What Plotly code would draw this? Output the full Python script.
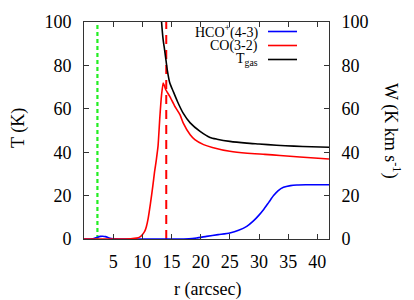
import plotly.graph_objects as go

# ---- data ----
r_tgas = [13.0, 13.3, 13.57, 13.8, 14.0, 14.3, 14.7, 15.3, 16.0, 17.0, 18.2, 19.9, 21.6, 22.8, 25.0, 27.9, 30.0, 33.0, 36.0, 39.0, 42.0]
t_gas = [115, 100, 91.8, 87.5, 83.5, 77.5, 72.0, 68.0, 63.5, 58.0, 53.5, 49.6, 46.8, 46.0, 45.0, 44.2, 43.8, 43.2, 42.8, 42.5, 42.3]

r_co = [0, 5, 7, 8, 9, 9.6, 10.0, 10.4, 10.7, 11.0, 11.4, 11.8, 12.1, 12.4, 12.7, 13.0, 13.3, 13.57, 13.8, 14.0, 14.7, 15.5, 16.45, 17.0, 18.2, 19.0, 20.5, 22.0, 25.0, 28.0, 31.0, 33.6, 37.0, 42.0]
w_co = [0, 0, 0, 0.1, 0.4, 1.0, 2.0, 3.5, 5.8, 9.5, 16.5, 24.5, 31.0, 36.5, 43.0, 56.0, 66.5, 71.9, 70.5, 68.9, 65.7, 61.5, 57.3, 53.5, 48.0, 45.8, 43.5, 42.2, 40.4, 39.5, 39.0, 38.5, 37.8, 36.9]

r_hco = [0, 1.5, 2.2, 2.8, 3.2, 3.7, 4.3, 5.0, 10, 15, 18, 19.3, 21, 23, 25, 26.5, 27.9, 29.0, 30.0, 30.8, 31.7, 32.5, 33.3, 34.2, 35.4, 36.5, 38, 42]
w_hco = [0, 0.1, 0.7, 1.2, 1.3, 1.1, 0.5, 0.1, 0, 0, 0.1, 0.5, 1.2, 2.0, 2.8, 4.0, 5.8, 8.2, 11.0, 13.6, 17.0, 20.0, 22.3, 23.8, 24.6, 24.9, 25.0, 25.0]

r_green = 2.3
r_red = 14.1

x_ticks = [5, 10, 15, 20, 25, 30, 35, 40]
y_ticks = [0, 20, 40, 60, 80, 100]

FONT = "Times New Roman, Liberation Serif, Times, serif"

# page body has an 8px margin: figure is drawn 8px right/down
OFF = 8
W, H = 414 - OFF, 300 - OFF
L, R, T, B = 84 - OFF, 85, 22 - OFF, 61
PW, PH = W - L - R, H - T - B


def px(xpix):
    return (xpix - 84) / PW


def py(ypix):
    return (22 + PH - ypix) / PH


fig = go.Figure()

fig.add_trace(go.Scatter(x=[r_green, r_green], y=[0, 100], mode="lines",
                         line=dict(color="#22ee22", width=2.2, dash="4px,3px"),
                         showlegend=False))
fig.add_trace(go.Scatter(x=[r_red, r_red], y=[0, 100], mode="lines",
                         line=dict(color="#ff0000", width=2, dash="9px,6px"),
                         showlegend=False))
fig.add_trace(go.Scatter(x=r_hco, y=w_hco, mode="lines", yaxis="y2",
                         line=dict(color="#0000ff", width=1.6, shape="spline", smoothing=0.6),
                         showlegend=False))
fig.add_trace(go.Scatter(x=r_co, y=w_co, mode="lines", yaxis="y2",
                         line=dict(color="#ff0000", width=1.6, shape="spline", smoothing=0.4),
                         showlegend=False))
fig.add_trace(go.Scatter(x=r_tgas, y=t_gas, mode="lines",
                         line=dict(color="#000000", width=1.6, shape="spline", smoothing=0.6),
                         showlegend=False))


def axis_style():
    return dict(showgrid=False, zeroline=False, ticks="inside", ticklen=5,
                tickcolor="#333333", linecolor="#333333", linewidth=1, showline=True,
                automargin=False,
                tickfont=dict(family=FONT, size=18, color="black"))


fig.update_layout(
    width=W, height=H,
    margin=dict(l=L, r=R, t=T, b=B, autoexpand=False),
    paper_bgcolor="white", plot_bgcolor="white",
    showlegend=False,
    font=dict(family=FONT, size=18, color="black"),
    xaxis=dict(range=[0, 42], tickvals=x_ticks, mirror="ticks",
               ticklabelstandoff=6, **axis_style()),
    yaxis=dict(range=[0, 100], tickvals=y_ticks, ticklabelstandoff=8, **axis_style()),
    yaxis2=dict(range=[0, 100], tickvals=y_ticks, overlaying="y", side="right",
                ticklabelstandoff=8, **axis_style()),
)

# axis titles
fig.add_annotation(text="r (arcsec)", xref="paper", yref="paper", x=px(207), y=py(289),
                   xanchor="center", yanchor="middle", showarrow=False,
                   font=dict(family=FONT, size=18, color="black"))
fig.add_annotation(text="T (K)", xref="paper", yref="paper", x=px(18), y=py(128),
                   xanchor="center", yanchor="middle", textangle=-90, showarrow=False,
                   font=dict(family=FONT, size=18, color="black"))
fig.add_annotation(text="W (K km s<sup>-1</sup>)", xref="paper", yref="paper", x=px(392), y=py(131),
                   xanchor="center", yanchor="middle", textangle=90, showarrow=False,
                   font=dict(family=FONT, size=18, color="black"))

# legend (text right-aligned, line sample on the right)
legend_items = [("HCO<sup>+</sup>(4-3)", "#0000ff", 31.5),
                ("CO(3-2)", "#ff0000", 45.5),
                ("T<sub>gas</sub>", "#000000", 59.5)]
for label, color, ly in legend_items:
    fig.add_annotation(text=label, xref="paper", yref="paper", x=px(260), y=py(ly),
                       xanchor="right", yanchor="middle", showarrow=False,
                       font=dict(family=FONT, size=14, color="black"))
    fig.add_shape(type="line", xref="paper", yref="paper",
                  x0=px(268), x1=px(297), y0=py(ly), y1=py(ly),
                  line=dict(color=color, width=1.6))

fig.write_html("out.html")
